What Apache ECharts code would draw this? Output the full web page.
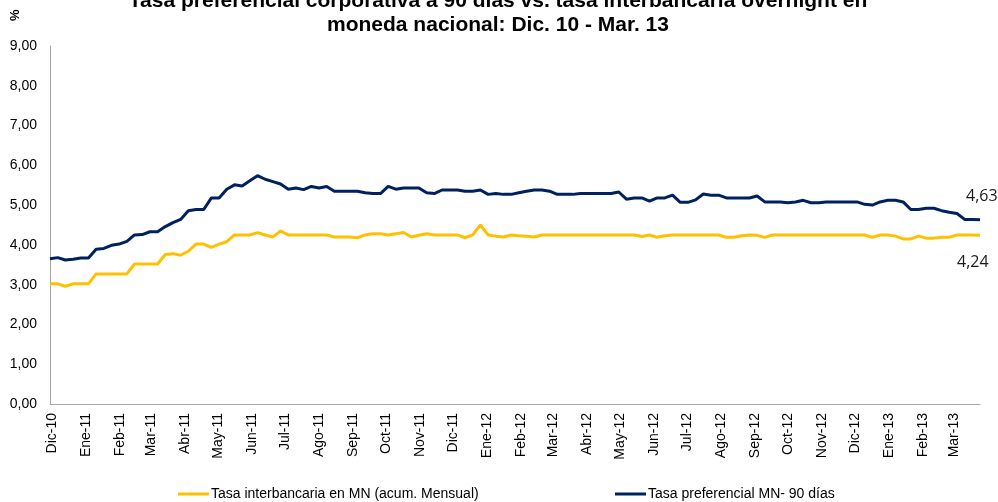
<!DOCTYPE html>
<html>
<head>
<meta charset="utf-8">
<script src="https://cdn.jsdelivr.net/npm/echarts@6/dist/echarts.min.js"></script>
<style>
  html, body { margin: 0; padding: 0; background: #fff; }
  #main { width: 998px; height: 502px; }
</style>
</head>
<body>
<div id="main"></div>
<script>
// meses del eje (ticks)
var monthLabels = ['Dic-10','Ene-11','Feb-11','Mar-11','Abr-11','May-11','Jun-11','Jul-11','Ago-11','Sep-11','Oct-11','Nov-11',
  'Dic-11','Ene-12','Feb-12','Mar-12','Abr-12','May-12','Jun-12','Jul-12','Ago-12','Sep-12','Oct-12','Nov-12',
  'Dic-12','Ene-13','Feb-13','Mar-13']

// datos semanales, primera semana 29-nov-2010
var firstWeek = [2010, 10, 29]
var weekCount = 122

// Tasa preferencial MN- 90 dias
var preferencial = [
  3.65,3.68,3.62,3.64,3.67,3.67,3.89,3.91,3.99,4.02,4.09,4.25,4.26,4.33,4.33,4.46,4.56,4.64,4.86,4.89,4.89,5.18,5.18,5.40,5.51,5.48,5.61,5.74,5.65,5.59,5.53,
  5.40,5.43,5.39,5.47,5.43,5.47,5.35,5.35,5.35,5.35,5.31,5.29,5.29,5.47,5.40,5.43,5.43,5.43,5.31,5.29,5.38,5.38,5.38,5.35,5.35,5.38,5.27,5.29,5.27,5.27,5.31,
  5.35,5.38,5.38,5.35,5.27,5.27,5.27,5.29,5.29,5.29,5.29,5.29,5.33,5.15,5.18,5.18,5.10,5.18,5.18,5.25,5.07,5.07,5.13,5.28,5.25,5.25,5.18,5.18,5.18,5.18,5.23,
  5.08,5.08,5.08,5.06,5.08,5.12,5.06,5.06,5.08,5.08,5.08,5.08,5.08,5.02,5.00,5.08,5.12,5.12,5.08,4.89,4.89,4.92,4.92,4.86,4.82,4.79,4.64,4.64,4.63
]

// Tasa interbancaria en MN (acum. Mensual)
var interbancaria = [
  3.02,3.02,2.96,3.02,3.02,3.02,3.27,3.27,3.27,3.27,3.27,3.52,3.52,3.52,3.52,3.76,3.78,3.74,3.84,4.02,4.02,3.94,4.02,4.08,4.25,4.25,4.25,4.31,4.25,4.20,4.35,
  4.25,4.25,4.25,4.25,4.25,4.25,4.20,4.20,4.20,4.18,4.25,4.28,4.28,4.25,4.28,4.31,4.20,4.24,4.28,4.25,4.25,4.25,4.25,4.18,4.25,4.50,4.25,4.22,4.20,4.25,4.23,
  4.22,4.20,4.25,4.25,4.25,4.25,4.25,4.25,4.25,4.25,4.25,4.25,4.25,4.25,4.25,4.21,4.25,4.19,4.23,4.25,4.25,4.25,4.25,4.25,4.25,4.25,4.19,4.19,4.23,4.25,4.24,
  4.19,4.25,4.25,4.25,4.25,4.25,4.25,4.25,4.25,4.25,4.25,4.25,4.25,4.25,4.19,4.25,4.25,4.22,4.15,4.15,4.22,4.17,4.17,4.19,4.19,4.25,4.25,4.25,4.24
]

var weeks = []
for (var i = 0; i < weekCount; i++) {
  weeks.push(new Date(firstWeek[0], firstWeek[1], firstWeek[2] + 7 * i).getTime())
}
var monthTicks = monthLabels.map(function (m, i) {
  return new Date(2010, 11 + i, 1).getTime()
})

function toPairs(values) {
  return values.map(function (v, i) {
    return [weeks[i], v]
  })
}

function fmt(v) {
  return v.toFixed(2).replace('.', ',')
}

var chart = echarts.init(document.getElementById('main'))
var font = 'Liberation Sans, Arial, sans-serif'

var option = {
  backgroundColor: '#fff',
  animation: false,
  title: {
    text: 'Tasa preferencial corporativa a 90 días vs. tasa interbancaria overnight en\nmoneda nacional: Dic. 10 - Mar. 13',
    left: 493,
    textAlign: 'center',
    top: -16,
    textStyle: { fontFamily: font, fontSize: 21, fontWeight: 'bold', color: '#000', lineHeight: 24 }
  },
  graphic: [{
    type: 'text',
    x: 9, y: 21,
    rotation: Math.PI / 2,
    style: { text: '%', fontFamily: font, fontSize: 13, fontWeight: 'bold', fill: '#000' }
  }],
  legend: [{
    data: ['Tasa interbancaria en MN (acum. Mensual)'],
    left: 173, top: 482,
    icon: 'rect', itemWidth: 31, itemHeight: 3, itemGap: 4,
    textStyle: { fontFamily: font, fontSize: 14, color: '#000', padding: [0, 0, 0, -3] }
  }, {
    data: ['Tasa preferencial MN- 90 días'],
    left: 610, top: 482,
    icon: 'rect', itemWidth: 31, itemHeight: 3, itemGap: 4,
    textStyle: { fontFamily: font, fontSize: 14, color: '#000', padding: [0, 0, 0, -3] }
  }],
  grid: { left: 50, right: 18, top: 46, bottom: 98 },
  xAxis: {
    type: 'value',
    min: weeks[0],
    max: weeks[weeks.length - 1],
    axisLine: { lineStyle: { color: '#a6a6a6', width: 1 } },
    axisTick: { show: false },
    splitLine: { show: false },
    axisLabel: {
      customValues: monthTicks,
      rotate: 90,
      margin: 9,
      color: '#000',
      fontFamily: font,
      fontSize: 14,
      formatter: function (val) {
        var idx = monthTicks.indexOf(val)
        return idx >= 0 ? monthLabels[idx] : ''
      }
    }
  },
  yAxis: {
    type: 'value',
    min: 0, max: 9, interval: 1,
    axisLine: { show: true, lineStyle: { color: '#a6a6a6', width: 1 } },
    axisTick: { show: false },
    splitLine: { show: false },
    axisLabel: {
      margin: 13,
      color: '#000',
      fontFamily: font,
      fontSize: 14,
      formatter: function (v) { return fmt(v) }
    }
  },
  series: [{
    name: 'Tasa interbancaria en MN (acum. Mensual)',
    type: 'line',
    symbol: 'none',
    color: '#ffc000',
    lineStyle: { width: 3, color: '#ffc000' },
    endLabel: {
      show: true,
      offset: [-31, 27],
      formatter: function (p) { return fmt(p.value[1]) },
      fontFamily: 'Open Sans, sans-serif', fontSize: 16, color: '#1a1a1a'
    },
    data: toPairs(interbancaria)
  }, {
    name: 'Tasa preferencial MN- 90 días',
    type: 'line',
    symbol: 'none',
    color: '#002060',
    lineStyle: { width: 3, color: '#002060' },
    endLabel: {
      show: true,
      offset: [-22, -23],
      formatter: function (p) { return fmt(p.value[1]) },
      fontFamily: 'Open Sans, sans-serif', fontSize: 16, color: '#1a1a1a'
    },
    data: toPairs(preferencial)
  }]
}
chart.setOption(option)
</script>
</body>
</html>
